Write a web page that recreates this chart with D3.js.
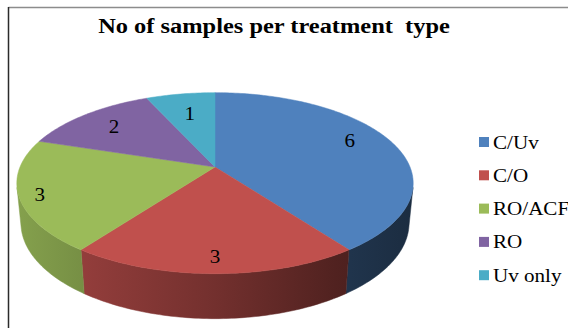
<!DOCTYPE html>
<html>
<head>
<meta charset="utf-8">
<script src="https://cdn.jsdelivr.net/npm/d3@7"></script>
<style>
  html, body { margin: 0; padding: 0; background: #fff; }
  svg { display: block; }
  text { font-family: "Liberation Serif", "Times New Roman", serif; }
</style>
</head>
<body>
<svg id="chart" width="568" height="328"></svg>
<script>
// Data
const categories = ["C/Uv", "C/O", "RO/ACF", "RO", "Uv only"];
const values = [6, 3, 3, 2, 1];
const colors = ["#4f81bd", "#c0504d", "#9bbb59", "#8064a2", "#4bacc6"];
const title = "No of samples per treatment\u00a0 type";

const W = 568, H = 328;
const stretch = 1.11;   // text is drawn slightly wide
const svg = d3.select("#chart");
const defs = svg.append("defs");

function placeText(sel, x, y) {
  return sel.attr("transform", `translate(${x},${y}) scale(${stretch},1)`);
}

// Frame
svg.append("line").attr("x1", 8.5).attr("x2", W).attr("y1", 7.5).attr("y2", 7.5)
  .attr("stroke", "#8c8c8c").attr("stroke-width", 1.5);
svg.append("line").attr("x1", 8.5).attr("x2", 8.5).attr("y1", 7).attr("y2", H)
  .attr("stroke", "#2b2b2b").attr("stroke-width", 1.5);

// Title
placeText(svg.append("text"), 274, 33).attr("text-anchor", "middle")
  .attr("font-weight", "bold").attr("font-size", 22).attr("fill", "#000")
  .text(title);

// 3D pie projection: circle of unit radius lying in a horizontal plane,
// viewed from above at elevation phi with perspective distance D.
const cx = 215, cy = 167, R = 195;
const phi = 26.7 * Math.PI / 180;
const D = 5.0;
const thick = 0.23;

function project(theta, drop) {
  const x = Math.sin(theta), d = Math.cos(theta);   // d > 0 => far side
  const depth = d * Math.cos(phi) + drop * Math.sin(phi);
  const sy = -d * Math.sin(phi) + drop * Math.cos(phi);
  const s = D / (D + depth);
  return [cx + R * x * s, cy + R * sy * s];
}
function projectIn(theta, r) {
  const x = Math.sin(theta) * r, d = Math.cos(theta) * r;
  const s = D / (D + d * Math.cos(phi));
  return [cx + R * x * s, cy - R * d * Math.sin(phi) * s];
}

const pie = d3.pie().sort(null).value(d => d).startAngle(0).endAngle(2 * Math.PI);
const arcs = pie(values);

// Range of the outer wall facing the viewer
const cosLim = -1 / (D * Math.cos(phi));
const visA = Math.acos(cosLim), visB = 2 * Math.PI - visA;

function shade(hex, f) {
  const c = d3.rgb(hex);
  return d3.rgb(c.r * f, c.g * f, c.b * f).formatHex();
}

// Wall gradients: lighter on the left, darker on the right
colors.forEach((c, i) => {
  const g = defs.append("linearGradient").attr("id", "wall" + i)
    .attr("gradientUnits", "userSpaceOnUse")
    .attr("x1", 15).attr("x2", 415).attr("y1", 0).attr("y2", 0);
  [[0, 0.86], [0.2, 0.75], [0.5, 0.6], [0.8, 0.42], [1, 0.34]].forEach(([o, f]) => {
    g.append("stop").attr("offset", o).attr("stop-color", shade(c, f));
  });
});

const gWall = svg.append("g");
const gTop = svg.append("g");
const gLab = svg.append("g");

const step = Math.PI / 180;
function samples(s, e) {
  const n = Math.max(2, Math.ceil((e - s) / step));
  return d3.range(n + 1).map(k => s + (e - s) * k / n);
}

arcs.forEach((a, i) => {
  const s = Math.max(a.startAngle, visA), e = Math.min(a.endAngle, visB);
  if (e <= s) return;
  const ts = samples(s, e);
  const pts = ts.map(t => project(t, 0)).concat(ts.slice().reverse().map(t => project(t, thick)));
  gWall.append("path")
    .attr("d", "M" + pts.map(q => q.join(",")).join("L") + "Z")
    .attr("fill", `url(#wall${i})`).attr("stroke", `url(#wall${i})`).attr("stroke-width", 0.5);
});

// Top faces
arcs.forEach((a, i) => {
  const pts = [[cx, cy]].concat(samples(a.startAngle, a.endAngle).map(t => project(t, 0)));
  gTop.append("path")
    .attr("d", "M" + pts.map(q => q.join(",")).join("L") + "Z")
    .attr("fill", colors[i]).attr("stroke", colors[i]).attr("stroke-width", 0.5);
});

// Value labels: offset from each slice's bisector (degrees) and radius
const labelShift = [-6, 0, -1, 0, 0];
const labelR = [0.8, 0.86, 0.9, 0.76, 0.7];
arcs.forEach((a, i) => {
  const mid = (a.startAngle + a.endAngle) / 2 + labelShift[i] * Math.PI / 180;
  const [px, py] = projectIn(mid, labelR[i]);
  placeText(gLab.append("text"), px, py + 6.5).attr("text-anchor", "middle")
    .attr("font-size", 19).attr("fill", "#000")
    .text(values[i]);
});

// Legend
const leg = svg.append("g");
categories.forEach((c, i) => {
  const y = 142 + i * 33.3;
  leg.append("rect").attr("x", 479).attr("y", y - 5).attr("width", 10).attr("height", 10)
    .attr("fill", colors[i]);
  placeText(leg.append("text"), 493, y + 6.5)
    .attr("font-size", 19).attr("fill", "#000").text(c);
});
</script>
</body>
</html>
